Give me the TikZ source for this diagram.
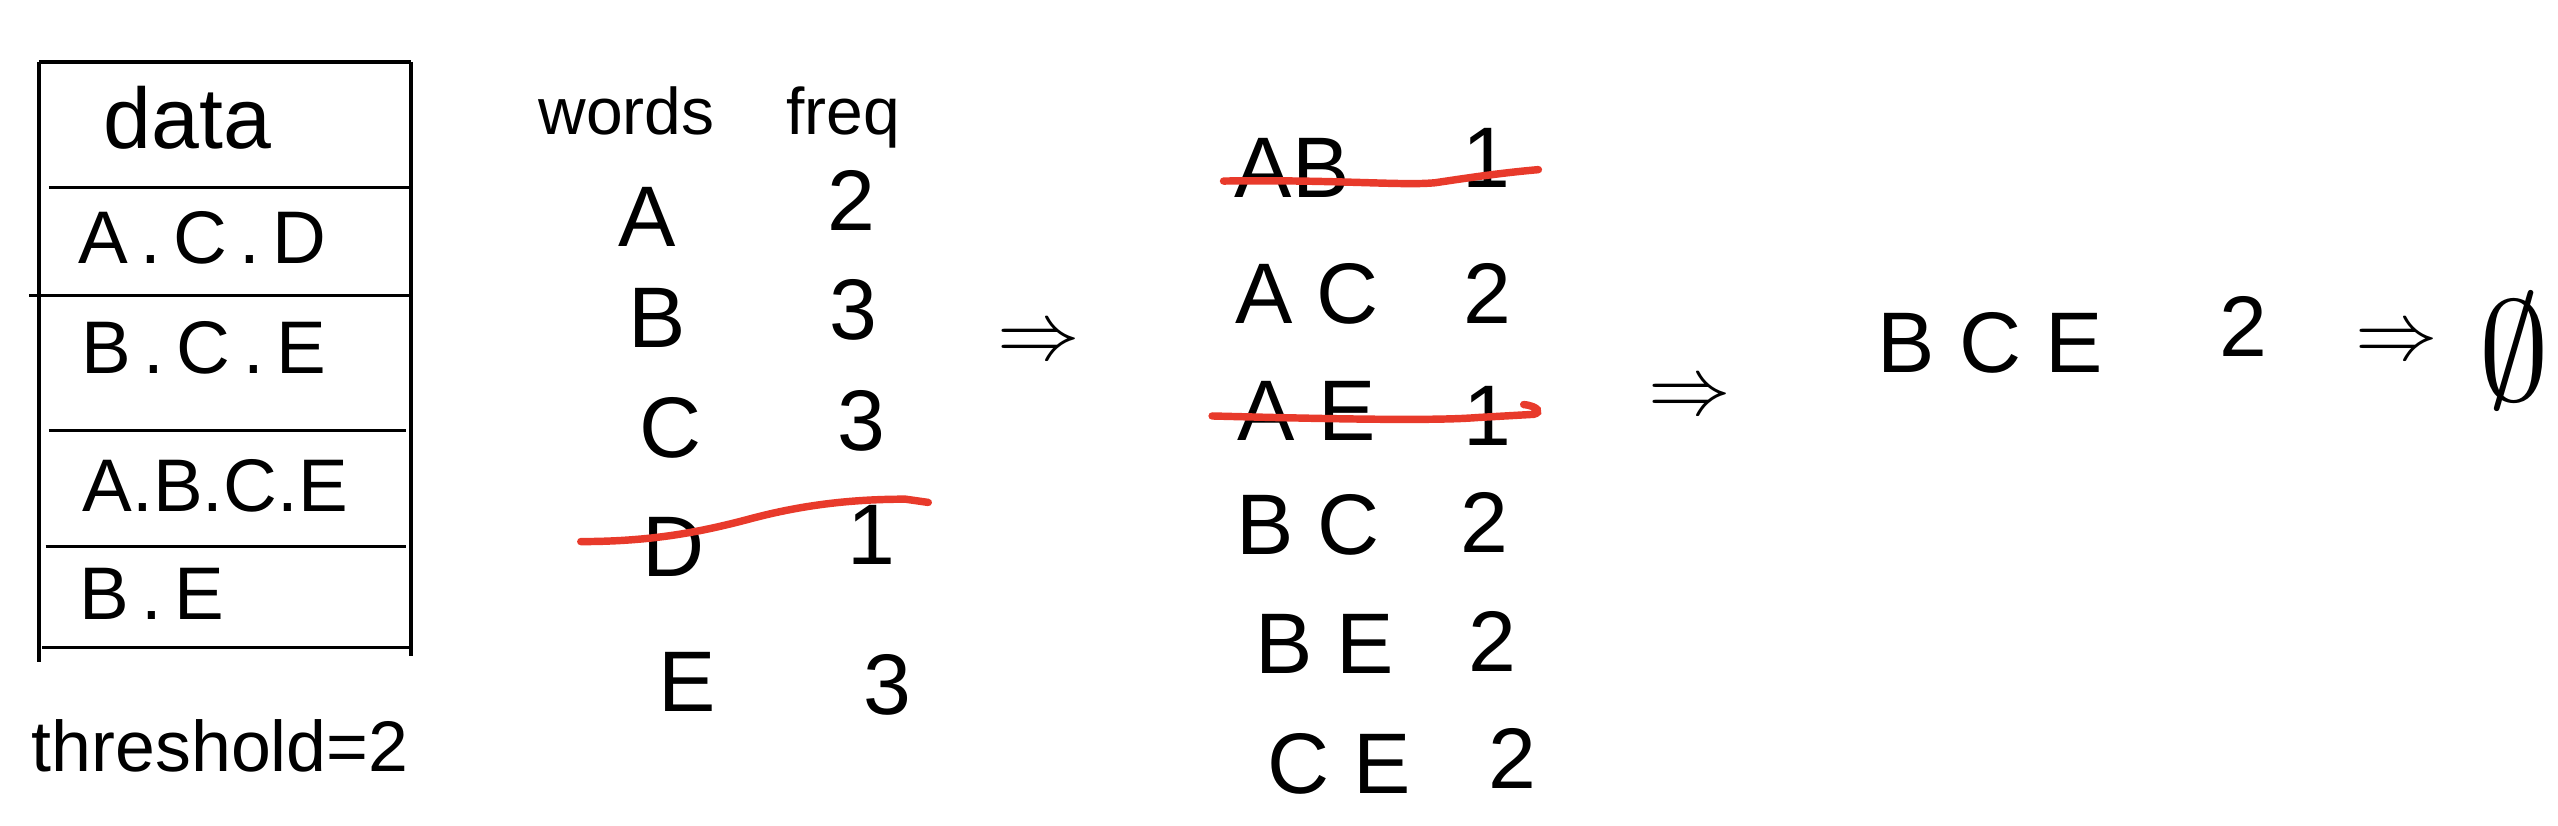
\documentclass[tikz,border=0pt]{standalone}
\usepackage{fontspec}
\setmainfont{Liberation Sans}
\usepackage{tikz}
\definecolor{strikered}{RGB}{232,58,43}

\begin{document}
\begin{tikzpicture}[x=0.1mm,y=-0.1mm,
  cell/.style={font=\fontsize{13}{15}\selectfont,inner sep=0pt},
  hd/.style={font=\fontsize{11.5}{14}\selectfont,inner sep=0pt},
  item/.style={font=\fontsize{15}{18}\selectfont,inner sep=0pt},
  imp/.style={font=\fontsize{14}{16}\selectfont,inner sep=0pt},
  rule/.style={line width=0.6pt},
  strike/.style={draw=strikered,line width=1.3pt,line cap=round}]
\useasboundingbox (0,0) rectangle (1568,506);
% table of data
\draw[rule] (24,38) -- (252,38);
\draw[rule] (24,38) -- (24,406);
\draw[rule] (252,38) -- (252,402);
\draw[rule] (30,115) -- (252,115);
\draw[rule] (18,181) -- (252,181);
\draw[rule] (30,264) -- (249,264);
\draw[rule] (28,335) -- (249,335);
\draw[rule] (26,397) -- (252,397);
\node[font=\fontsize{15}{18}\selectfont,inner sep=0pt] (hdr) at (115,72) {data};
\node[cell] (r1) at (124,146) {A\,.\,C\,.\,D};
\node[cell] (r2) at (125,213) {B\,.\,C\,.\,E};
\node[cell] (r3) at (132,298) {A.B.C.E};
\node[cell] (r4) at (93,364) {B\,.\,E};
\node[font=\fontsize{12.5}{15}\selectfont,inner sep=0pt] (thr) at (135,457) {threshold=2};
% single words
\node[hd] (wh) at (384,68) {words};
\node[hd] (fh) at (517,72) {freq};
\node[item] (w1) at (397,133) {A};
\node[item] (f1) at (522,123) {2};
\node[item] (w2) at (403,195) {B};
\node[item] (f2) at (523,190) {3};
\node[item] (w3) at (411,262) {C};
\node[item] (f3) at (528,258) {3};
\node[item] (w4) at (413,335) {D};
\node[item] (f4) at (534,328) {1};
\node[item] (w5) at (421,418) {E};
\node[item] (f5) at (544,420) {3};
\draw[strike] (356,332) .. controls (400,332) and (430,326) .. (460,318) .. controls (490,310) and (520,306) .. (555,306) -- (569,308);
\node[imp] (i1) at (637,211) {$\Rightarrow$};
% pairs
\node[item] (p1) at (792,103) {AB};
\node[item] (q1) at (911,97) {1};
\node[item] (p2) at (801,180) {A C};
\node[item] (q2) at (912,180) {2};
\node[item] (p3) at (801,252) {A E};
\node[item] (q3) at (912,255) {1};
\node[item] (p4) at (802,322) {B C};
\node[item] (q4) at (910,320) {2};
\node[item] (p5) at (812,395) {B E};
\node[item] (q5) at (915,393) {2};
\node[item] (p6) at (821,468) {C E};
\node[item] (q6) at (927,465) {2};
\draw[strike] (750,111) .. controls (820,110) and (860,114) .. (880,112) .. controls (900,109) and (920,106) .. (943,104);
\draw[strike] (743,255) .. controls (820,257) and (880,258) .. (905,256) -- (940,254) .. controls (945,253) and (943,249) .. (934,248);
\node[imp] (i2) at (1036,245) {$\Rightarrow$};
% triple
\node[item] (t1) at (1220,210) {B C E};
\node[item] (u1) at (1375,200) {2};
\node[imp] (i3) at (1469,211) {$\Rightarrow$};
\node[font=\fontsize{26}{30}\selectfont,inner sep=0pt] (nil) at (1541,215) {$\emptyset$};
\end{tikzpicture}
\end{document}
